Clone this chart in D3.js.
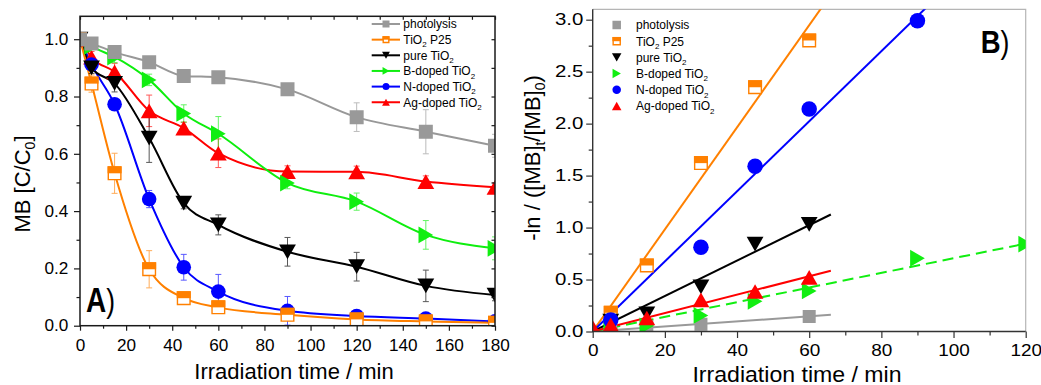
<!DOCTYPE html>
<html>
<head>
<meta charset="utf-8">
<script src="https://cdn.jsdelivr.net/npm/d3@7"></script>
<style>
  html, body { margin: 0; padding: 0; background: #fff; }
  svg { display: block; font-family: "Liberation Sans", Arial, sans-serif; }
</style>
</head>
<body>
<svg id="chart" width="1041" height="385"></svg>
<script>
// ---------- Series definitions ----------
const seriesLabels = [
  ["photolysis"],
  ["TiO", "2", " P25"],
  ["pure TiO", "2"],
  ["B-doped TiO", "2"],
  ["N-doped TiO", "2"],
  ["Ag-doped TiO", "2"]
];
const seriesColors = ["#999999", "#ff8000", "#000000", "#11ee11", "#0000ff", "#ff0000"];
const seriesShapes = ["square", "halfsquare", "down", "right", "circle", "up"];

// ---------- Panel A: relative concentration C/C0 vs time ----------
const timeA = [0, 5, 15, 30, 45, 60, 90, 120, 150, 180];
const photolysisA = [1.0, 0.985, 0.955, 0.92, 0.872, 0.867, 0.825, 0.728, 0.677, 0.628];
const p25A        = [1.0, 0.845, 0.532, 0.197, 0.096, 0.064, 0.038, 0.022, 0.015, 0.010];
const pureA       = [1.0, 0.90, 0.846, 0.655, 0.428, 0.352, 0.258, 0.206, 0.139, 0.107];
const boronA      = [1.0, 0.975, 0.938, 0.858, 0.741, 0.670, 0.498, 0.433, 0.317, 0.270];
const nitrogenA   = [1.0, 0.912, 0.773, 0.442, 0.204, 0.119, 0.052, 0.034, 0.025, 0.015];
const silverA     = [1.0, 0.937, 0.886, 0.750, 0.690, 0.602, 0.538, 0.537, 0.503, 0.483];

const photolysisErrA = [0, 0.01, 0.01, 0.01, 0.01, 0.01, 0.01, 0.05, 0.077, 0.04];
const p25ErrA        = [0, 0.03, 0.07, 0.065, 0.015, 0.015, 0.01, 0.01, 0.01, 0.005];
const pureErrA       = [0, 0.02, 0.03, 0.085, 0.02, 0.035, 0.05, 0.05, 0.055, 0.02];
const boronErrA      = [0, 0.01, 0.02, 0.02, 0.03, 0.06, 0.02, 0.03, 0.05, 0.04];
const nitrogenErrA   = [0, 0.01, 0.02, 0.03, 0.045, 0.06, 0.05, 0.02, 0.01, 0.01];
const silverErrA     = [0, 0.02, 0.03, 0.055, 0.02, 0.05, 0.02, 0.02, 0.02, 0.015];

const xTicksA = [0, 20, 40, 60, 80, 100, 120, 140, 160, 180];
const xMinorA = [10, 30, 50, 70, 90, 110, 130, 150, 170];
const yTicksA = [0.0, 0.2, 0.4, 0.6, 0.8, 1.0];
const yMinorA = [0.1, 0.3, 0.5, 0.7, 0.9];

// ---------- Panel B: -ln(C/C0) vs time with linear fits ----------
const photolysisTB = [5, 15, 30, 60];
const photolysisB  = [0.014, 0.045, 0.07, 0.145];
const p25TB        = [5, 15, 30, 45, 60];
const p25B         = [0.18, 0.635, 1.62, 2.35, 2.80];
const pureTB       = [5, 15, 30, 45, 60];
const pureB        = [0.10, 0.17, 0.43, 0.84, 1.03];
const boronTB      = [5, 15, 30, 45, 60, 90, 120];
const boronB       = [0.025, 0.055, 0.155, 0.29, 0.39, 0.705, 0.84];
const nitrogenTB   = [5, 30, 45, 60, 90];
const nitrogenB    = [0.11, 0.81, 1.59, 2.14, 2.99];
const silverTB     = [0, 5, 15, 30, 45, 60];
const silverB      = [0.04, 0.065, 0.13, 0.305, 0.385, 0.52];
// time span over which each fitted line is drawn
const fitEndB = [66, 66, 66, 120, 95, 66];

const xTicksB = [0, 20, 40, 60, 80, 100, 120];
const xMinorB = [10, 30, 50, 70, 90, 110];
const yTicksB = [0.0, 0.5, 1.0, 1.5, 2.0, 2.5, 3.0];
const yMinorB = [0.25, 0.75, 1.25, 1.75, 2.25, 2.75];

// ---------- Assemble series ----------
const errA = [photolysisErrA, p25ErrA, pureErrA, boronErrA, nitrogenErrA, silverErrA];
const seriesA = [photolysisA, p25A, pureA, boronA, nitrogenA, silverA].map((vals, i) => ({
  i, values: vals.map((v, k) => ({ t: timeA[k], v, e: errA[i][k] }))
}));
const tB = [photolysisTB, p25TB, pureTB, boronTB, nitrogenTB, silverTB];
const vB = [photolysisB, p25B, pureB, boronB, nitrogenB, silverB];
const seriesB = vB.map((vals, i) => {
  const pts = vals.map((v, k) => ({ t: tB[i][k], v }));
  // least-squares slope of a line through the origin
  const slope = d3.sum(pts, p => p.t * p.v) / d3.sum(pts, p => p.t * p.t);
  return { i, values: pts, slope, end: fitEndB[i] };
});

// ---------- Marker paths ----------
function markerPath(shape, s) {
  const h = s / 2;
  switch (shape) {
    case "square":
    case "halfsquare":
      return `M${-h},${-h}h${s}v${s}h${-s}Z`;
    case "circle": {
      const p = d3.path(); p.arc(0, 0, h, 0, 2 * Math.PI); p.closePath(); return p.toString();
    }
    case "up": {
      const w = s * 1.12, hh = s * 0.98;
      return `M0,${-hh / 2}L${w / 2},${hh / 2}L${-w / 2},${hh / 2}Z`;
    }
    case "down": {
      const w = s * 1.12, hh = s * 0.98;
      return `M0,${hh / 2}L${w / 2},${-hh / 2}L${-w / 2},${-hh / 2}Z`;
    }
    case "right": {
      const w = s * 1.12, hh = s * 0.98;
      return `M${hh / 2},0L${-hh / 2},${-w / 2}L${-hh / 2},${w / 2}Z`;
    }
  }
}
function drawMarker(g, shape, color, s) {
  if (shape === "halfsquare") {
    g.append("path").attr("d", markerPath("square", s - 1.4))
      .attr("fill", "#fff").attr("stroke", color).attr("stroke-width", 1.4);
    g.append("rect").attr("x", -s / 2).attr("y", -s / 2).attr("width", s).attr("height", s / 2)
      .attr("fill", color);
  } else {
    g.append("path").attr("d", markerPath(shape, s)).attr("fill", color);
  }
}
const markerSizeA = { square: 14, halfsquare: 14, circle: 14.6, up: 15, down: 15, right: 15 };
const markerSizeB = { square: 13, halfsquare: 14, circle: 15.5, up: 15, down: 15, right: 15 };

// ---------- Text helpers ----------
function stretchedText(parent, x, y, sx, size, anchor) {
  return parent.append("g").attr("transform", `translate(${x},${y}) scale(${sx},1)`)
    .append("text").attr("font-size", size).attr("text-anchor", anchor || "start").attr("fill", "#000");
}
function addParts(text, parts, subSize, subShift) {
  parts.forEach((p, k) => {
    const isSub = k % 2 === 1;
    text.append("tspan").text(p)
      .attr("font-size", isSub ? subSize : null)
      .attr("dy", isSub ? subShift : (k > 0 ? -subShift : null));
  });
}

const svg = d3.select("#chart");
const defs = svg.append("defs");

// =====================================================
// Panel A
// =====================================================
const frameA = { x0: 80, x1: 495, y0: 325.7, y1: 16.3 };
const xA = d3.scaleLinear().domain([0, 180]).range([frameA.x0, frameA.x1]);
const yA = d3.scaleLinear().domain([0, 1.08]).range([frameA.y0, frameA.y1]);

defs.append("clipPath").attr("id", "clipA").append("rect")
  .attr("x", frameA.x0).attr("y", frameA.y1)
  .attr("width", frameA.x1 - frameA.x0).attr("height", frameA.y0 - frameA.y1);

const gA = svg.append("g");
const plotA = gA.append("g").attr("clip-path", "url(#clipA)");

const lineA = d3.line().x(d => xA(d.t)).y(d => yA(d.v)).curve(d3.curveMonotoneX);
const orderA = [5, 4, 3, 2, 1, 0];
orderA.forEach(i => {
  plotA.append("path").datum(seriesA[i].values).attr("d", lineA)
    .attr("fill", "none").attr("stroke", seriesColors[i]).attr("stroke-width", 2);
});
// error bars
orderA.forEach(i => {
  const eg = plotA.append("g").attr("stroke", seriesColors[i]).attr("stroke-width", 1).attr("opacity", 0.65);
  seriesA[i].values.filter(d => d.e > 0).forEach(d => {
    const x = xA(d.t), ya = yA(d.v + d.e), yb = yA(d.v - d.e);
    eg.append("line").attr("x1", x).attr("x2", x).attr("y1", ya).attr("y2", yb);
    eg.append("line").attr("x1", x - 3).attr("x2", x + 3).attr("y1", ya).attr("y2", ya);
    eg.append("line").attr("x1", x - 3).attr("x2", x + 3).attr("y1", yb).attr("y2", yb);
  });
});
// markers
orderA.forEach(i => {
  seriesA[i].values.forEach(d => {
    const mg = plotA.append("g").attr("transform", `translate(${xA(d.t)},${yA(d.v)})`);
    drawMarker(mg, seriesShapes[i], seriesColors[i], markerSizeA[seriesShapes[i]]);
  });
});

// frame
gA.append("rect").attr("x", frameA.x0).attr("y", frameA.y1)
  .attr("width", frameA.x1 - frameA.x0).attr("height", frameA.y0 - frameA.y1)
  .attr("fill", "none").attr("stroke", "#1a1a1a").attr("stroke-width", 1.5);

function styleAxis(g, color) {
  g.attr("font-family", null).attr("font-size", null);
  g.select(".domain").remove();
  g.selectAll(".tick line").attr("stroke", color || "#1a1a1a").attr("stroke-width", 1.2);
}
// bottom axis
const axBA = gA.append("g").attr("transform", `translate(0,${frameA.y0})`)
  .call(d3.axisBottom(xA).tickValues(xTicksA).tickFormat(d3.format("d")).tickSize(5).tickPadding(8.6))
  .call(styleAxis);
axBA.selectAll("text").attr("font-size", 16.5).attr("fill", "#000")
  .attr("transform", "scale(1.04,1)");
gA.append("g").attr("transform", `translate(0,${frameA.y0})`)
  .call(d3.axisBottom(xA).tickValues(xMinorA).tickFormat("").tickSize(3)).call(styleAxis);
// left axis
const axLA = gA.append("g").attr("transform", `translate(${frameA.x0},0)`)
  .call(d3.axisLeft(yA).tickValues(yTicksA).tickFormat(d3.format(".1f")).tickSize(6).tickPadding(5.7))
  .call(styleAxis);
axLA.selectAll("text").attr("font-size", 16.5).attr("fill", "#000")
  .attr("x", -11.7 / 1.04).attr("transform", "scale(1.04,1)");
gA.append("g").attr("transform", `translate(${frameA.x0},0)`)
  .call(d3.axisLeft(yA).tickValues(yMinorA).tickFormat("").tickSize(3.5)).call(styleAxis);
// inward ticks on top and right
gA.append("g").attr("transform", `translate(0,${frameA.y1})`)
  .call(d3.axisTop(xA).tickValues(xTicksA.concat(xMinorA)).tickFormat("").tickSize(-3.5)).call(styleAxis);
gA.append("g").attr("transform", `translate(${frameA.x1},0)`)
  .call(d3.axisRight(yA).tickValues(yTicksA.concat(yMinorA)).tickFormat("").tickSize(-3.5)).call(styleAxis);

// axis titles
stretchedText(gA, 294, 379, 1, 22, "middle").text("Irradiation time / min");
{
  const t = gA.append("text").attr("transform", "translate(29.5,184) rotate(-90)")
    .attr("font-size", 22).attr("text-anchor", "middle").attr("fill", "#000");
  addParts(t, ["MB [C/C", "0", "]"], 14, 5);
}
// panel letter
{
  const t = gA.append("g").attr("transform", "translate(86,311.7) scale(0.8,1)")
    .append("text").attr("font-size", 35).attr("fill", "#000");
  t.append("tspan").attr("font-weight", "bold").text("A");
  t.append("tspan").attr("font-size", 33).text(")");
}

// legend
const legA = gA.append("g");
seriesLabels.forEach((parts, i) => {
  const cy = 24 + i * 15.65;
  legA.append("line").attr("x1", 371.7).attr("x2", 400).attr("y1", cy).attr("y2", cy)
    .attr("stroke", seriesColors[i]).attr("stroke-width", 2);
  const mg = legA.append("g").attr("transform", `translate(386,${cy})`);
  drawMarker(mg, seriesShapes[i], seriesColors[i], 7);
  const t = legA.append("text").attr("x", 403.3).attr("y", cy + 4.3).attr("font-size", 12).attr("fill", "#000");
  addParts(t, parts, 8, 3.5);
});

// =====================================================
// Panel B
// =====================================================
const frameB = { x0: 592.7, x1: 1025.7, y0: 331.5, y1: 9.3 };
const xB = d3.scaleLinear().domain([0, 120]).range([frameB.x0, frameB.x1]);
const yB = d3.scaleLinear().domain([0, 3.1]).range([frameB.y0, frameB.y1]);

defs.append("clipPath").attr("id", "clipB").append("rect")
  .attr("x", frameB.x0).attr("y", frameB.y1)
  .attr("width", frameB.x1 - frameB.x0).attr("height", frameB.y0 - frameB.y1);

const gB = svg.append("g");
// light frame on top and right
gB.append("path")
  .attr("d", `M${frameB.x0},${frameB.y1}H${frameB.x1}V${frameB.y0}`)
  .attr("fill", "none").attr("stroke", "#b5b5b5").attr("stroke-width", 1.2);

const plotB = gB.append("g").attr("clip-path", "url(#clipB)");
const fitLine = d3.line().x(d => xB(d.t)).y(d => yB(d.v));
seriesB.forEach(s => {
  const pts = [{ t: 0, v: 0 }, { t: s.end, v: s.slope * s.end }];
  plotB.append("path").datum(pts).attr("d", fitLine)
    .attr("fill", "none").attr("stroke", seriesColors[s.i]).attr("stroke-width", 2)
    .attr("stroke-dasharray", s.i === 3 ? "11,6" : null);
});
seriesB.forEach(s => {
  s.values.forEach(d => {
    const mg = plotB.append("g").attr("transform", `translate(${xB(d.t)},${yB(d.v)})`);
    drawMarker(mg, seriesShapes[s.i], seriesColors[s.i], markerSizeB[seriesShapes[s.i]]);
  });
});

// dark left/bottom axis lines
gB.append("path")
  .attr("d", `M${frameB.x0},${frameB.y1}V${frameB.y0}H${frameB.x1}`)
  .attr("fill", "none").attr("stroke", "#333").attr("stroke-width", 1.4);

const axBB = gB.append("g").attr("transform", `translate(0,${frameB.y0})`)
  .call(d3.axisBottom(xB).tickValues(xTicksB).tickFormat(d3.format("d")).tickSize(6.5).tickPadding(6.3))
  .call(g => styleAxis(g, "#333"));
axBB.selectAll("text").attr("font-size", 16.5).attr("fill", "#000")
  .attr("transform", "scale(1.15,1)");
gB.append("g").attr("transform", `translate(0,${frameB.y0})`)
  .call(d3.axisBottom(xB).tickValues(xMinorB).tickFormat("").tickSize(4)).call(g => styleAxis(g, "#333"));
const axLB = gB.append("g").attr("transform", `translate(${frameB.x0},0)`)
  .call(d3.axisLeft(yB).tickValues(yTicksB).tickFormat(d3.format(".1f")).tickSize(6.5).tickPadding(3))
  .call(g => styleAxis(g, "#333"));
axLB.selectAll("text").attr("font-size", 16.5).attr("fill", "#000")
  .attr("x", -9.4 / 1.24).attr("transform", "scale(1.24,1)");
gB.append("g").attr("transform", `translate(${frameB.x0},0)`)
  .call(d3.axisLeft(yB).tickValues(yMinorB).tickFormat("").tickSize(4)).call(g => styleAxis(g, "#333"));

// axis titles
stretchedText(gB, 797, 381.5, 1.05, 22, "middle").text("Irradiation time / min");
{
  const t = gB.append("text").attr("transform", "translate(540,158) rotate(-90)")
    .attr("font-size", 22).attr("text-anchor", "middle").attr("fill", "#000");
  addParts(t, ["-ln / ([MB]", "t", "/[MB]", "0", ")"], 14, 5);
}
// panel letter
{
  const t = gB.append("g").attr("transform", "translate(980.7,52.7) scale(0.86,1)")
    .append("text").attr("font-size", 32).attr("fill", "#000");
  t.append("tspan").attr("font-weight", "bold").text("B");
  t.append("tspan").attr("font-size", 31).text(")");
}

// legend (symbols only)
const legB = gB.append("g");
seriesLabels.forEach((parts, i) => {
  const cy = 25 + i * 16.2;
  const mg = legB.append("g").attr("transform", `translate(616.7,${cy})`);
  drawMarker(mg, seriesShapes[i], seriesColors[i], 8.5);
  const t = legB.append("text").attr("x", 636).attr("y", cy + 4.3).attr("font-size", 12).attr("fill", "#000");
  addParts(t, parts, 8, 3.5);
});
</script>
</body>
</html>
